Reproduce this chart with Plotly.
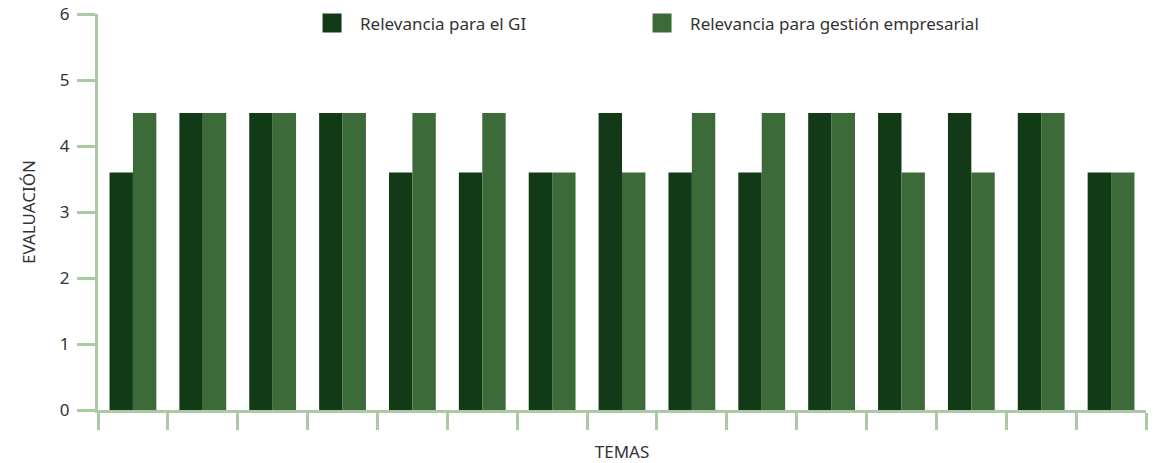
import plotly.graph_objects as go

# Topics (unlabelled on the axis) and the two relevance ratings per topic
temas = [f"Tema {i}" for i in range(1, 16)]
relevancia_gi = [3.6, 4.5, 4.5, 4.5, 3.6, 3.6, 3.6, 4.5, 3.6, 3.6, 4.5, 4.5, 4.5, 4.5, 3.6]
relevancia_empresa = [4.5, 4.5, 4.5, 4.5, 4.5, 4.5, 3.6, 3.6, 4.5, 4.5, 4.5, 3.6, 3.6, 4.5, 3.6]

serie_nombres = ["Relevancia para el GI", "Relevancia para gestión empresarial"]
serie_colores = ["#123a17", "#3c6b39"]
serie_leyendas = ["legend", "legend2"]
eje_color = "#abc9a5"
texto_color = "#333333"
fuente = "Noto Sans"

fig = go.Figure()
series = list(zip(serie_nombres, [relevancia_gi, relevancia_empresa], serie_colores, serie_leyendas))

for nombre, valores, color, leyenda in series:
    fig.add_trace(go.Bar(
        x=temas, y=valores, name=nombre, legendgroup=nombre, showlegend=False,
        marker=dict(color=color, line=dict(width=0)),
    ))

# Legend keys: large square swatches tied to each bar series
for nombre, valores, color, leyenda in series:
    fig.add_trace(go.Scatter(
        x=[None], y=[None], mode="markers", name=nombre, legendgroup=nombre, legend=leyenda,
        marker=dict(symbol="square", size=16, color=color, line=dict(width=3, color=color)),
        hoverinfo="skip",
    ))

leyenda_base = dict(
    orientation="h", xanchor="left", y=0.976, yanchor="middle",
    font=dict(family=fuente, size=17, color=texto_color),
    itemwidth=46, bgcolor="rgba(0,0,0,0)", borderwidth=0,
)

fig.update_layout(
    width=1155, height=463,
    barmode="group", bargap=0.33, bargroupgap=0,
    plot_bgcolor="white", paper_bgcolor="white",
    margin=dict(l=98, r=9, t=14, b=53, autoexpand=False),
    font=dict(family=fuente, size=15, color=texto_color),
    showlegend=True,
    legend=dict(leyenda_base, x=0.1966),
    legend2=dict(leyenda_base, x=0.5115),
)

fig.update_xaxes(
    type="category",
    showline=True, linecolor=eje_color, linewidth=3,
    ticks="outside", tickson="boundaries", ticklen=17, tickwidth=3, tickcolor=eje_color,
    showticklabels=False, showgrid=False, zeroline=False,
    title=dict(text="TEMAS", font=dict(family=fuente, size=17, color=texto_color), standoff=44),
    automargin=False,
)
fig.update_yaxes(
    range=[0, 6], dtick=1, tick0=0,
    showline=True, linecolor=eje_color, linewidth=3,
    ticks="outside", ticklen=18, tickwidth=3, tickcolor=eje_color,
    ticklabelstandoff=4,
    tickfont=dict(family=fuente, size=17, color=texto_color),
    showgrid=False, zeroline=False,
    title=dict(text="EVALUACIÓN", font=dict(family=fuente, size=17, color=texto_color), standoff=20),
    automargin=False,
)

fig.write_html("out.html")
